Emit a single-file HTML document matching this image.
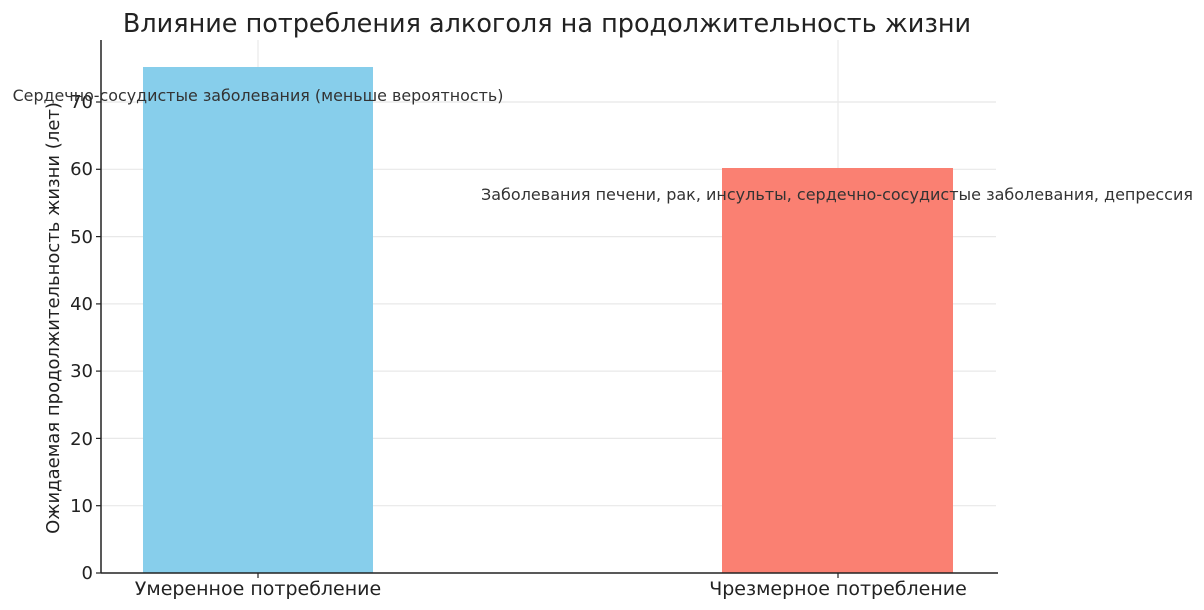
<!DOCTYPE html>
<html><head><meta charset="utf-8"><style>
html,body{margin:0;padding:0;background:#fff;}
svg{display:block;font-family:"DejaVu Sans","Liberation Sans",sans-serif;}
</style></head><body>
<svg width="1204" height="610" viewBox="0 0 1204 610" xmlns="http://www.w3.org/2000/svg">
<rect width="1204" height="610" fill="#fff"/>
<g stroke="#e8e8e8" stroke-width="1.2">
<line x1="101" y1="505.7" x2="996" y2="505.7"/>
<line x1="101" y1="438.4" x2="996" y2="438.4"/>
<line x1="101" y1="371.1" x2="996" y2="371.1"/>
<line x1="101" y1="303.9" x2="996" y2="303.9"/>
<line x1="101" y1="236.6" x2="996" y2="236.6"/>
<line x1="101" y1="169.3" x2="996" y2="169.3"/>
<line x1="101" y1="102" x2="996" y2="102"/>
<line x1="258" y1="40" x2="258" y2="573"/>
<line x1="838" y1="40" x2="838" y2="573"/>
</g>
<rect x="143" y="67" width="230" height="506" fill="#87CEEB"/>
<rect x="722" y="168" width="231" height="405" fill="#FA8072"/>
<line x1="101" y1="40" x2="101" y2="573" stroke="#222" stroke-width="1.5"/>
<line x1="101" y1="573" x2="998" y2="573" stroke="#222" stroke-width="1.5"/>
<g stroke="#222" stroke-width="1.2">
<line x1="96" y1="573" x2="101" y2="573"/><line x1="96" y1="505.7" x2="101" y2="505.7"/>
<line x1="96" y1="438.4" x2="101" y2="438.4"/><line x1="96" y1="371.1" x2="101" y2="371.1"/>
<line x1="96" y1="303.9" x2="101" y2="303.9"/><line x1="96" y1="236.6" x2="101" y2="236.6"/>
<line x1="96" y1="169.3" x2="101" y2="169.3"/><line x1="96" y1="102" x2="101" y2="102"/>
<line x1="258" y1="573" x2="258" y2="578"/><line x1="838" y1="573" x2="838" y2="578"/>
</g>
<g font-size="18" fill="#222" text-anchor="end">
<text x="93" y="579">0</text><text x="93" y="512">10</text><text x="93" y="445">20</text>
<text x="93" y="377">30</text><text x="93" y="310">40</text><text x="93" y="243">50</text>
<text x="93" y="175">60</text><text x="93" y="108">70</text>
</g>
<g font-size="19" fill="#222" text-anchor="middle">
<text x="258" y="595">Умеренное потребление</text>
<text x="838" y="595">Чрезмерное потребление</text>
</g>
<text x="0" y="0" font-size="18" fill="#222" text-anchor="middle" transform="translate(59,318) rotate(-90)">Ожидаемая продолжительность жизни (лет)</text>
<text x="547" y="32" font-size="25.5" fill="#222" text-anchor="middle">Влияние потребления алкоголя на продолжительность жизни</text>
<text x="258" y="101" font-size="15.9" fill="#333" text-anchor="middle">Сердечно-сосудистые заболевания (меньше вероятность)</text>
<text x="837" y="200" font-size="16" fill="#333" text-anchor="middle">Заболевания печени, рак, инсульты, сердечно-сосудистые заболевания, депрессия</text>
</svg>
</body></html>
